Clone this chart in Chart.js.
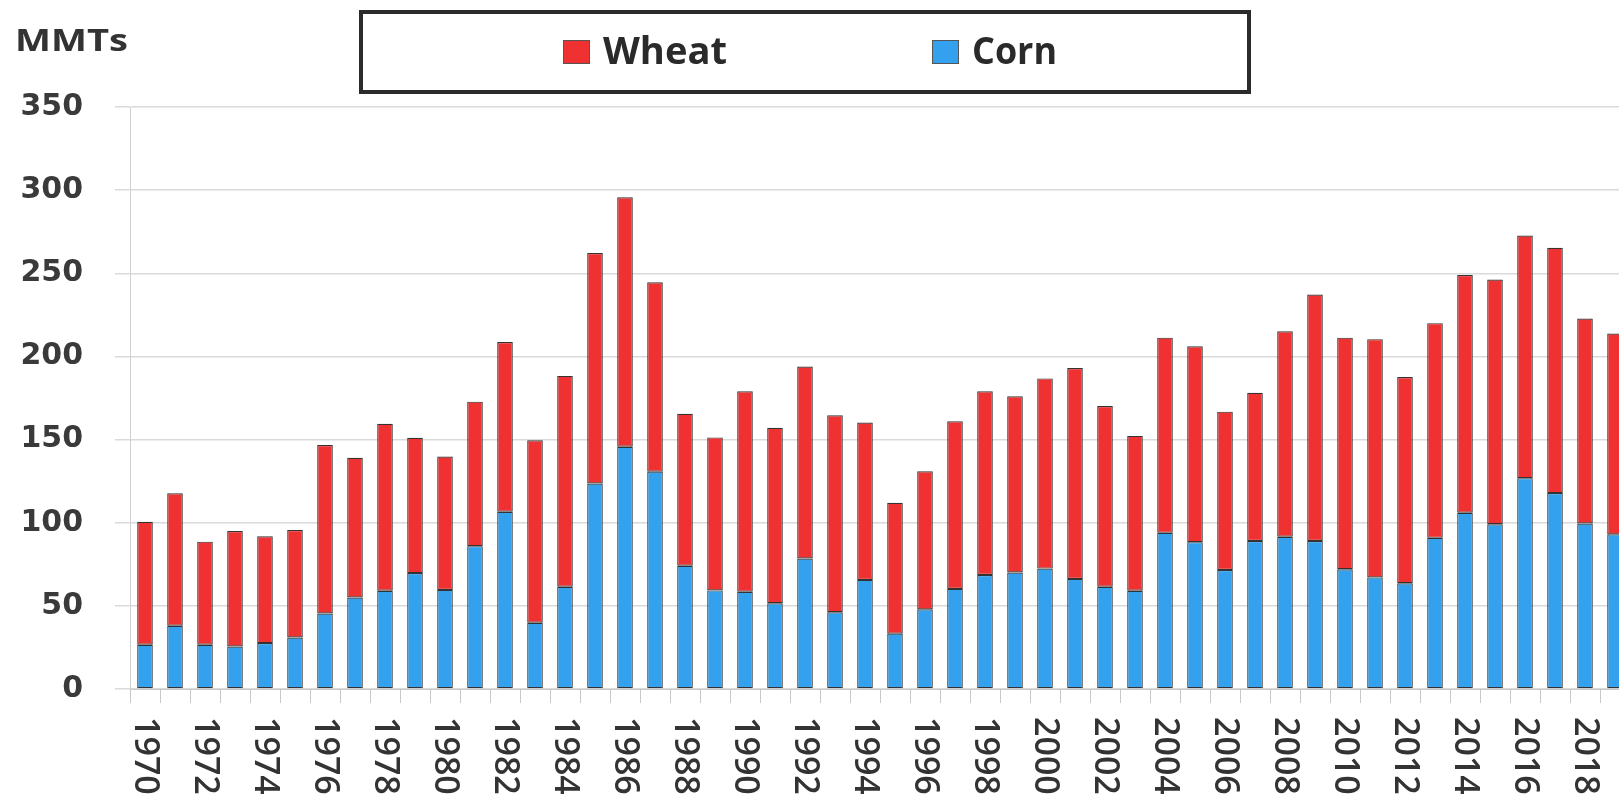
<!DOCTYPE html>
<html>
<head>
<meta charset="utf-8">
<script src="https://cdn.jsdelivr.net/npm/chart.js@4.4.1/dist/chart.umd.min.js"></script>
<style>
html,body{margin:0;padding:0;background:#fff;overflow:hidden;width:1619px;height:802px;}
#wrap{position:absolute;left:0;top:0;width:1640px;height:802px;}
</style>
</head>
<body>
<div id="wrap"><canvas id="c"></canvas></div>
<script>
const years = ['1970','1971','1972','1973','1974','1975','1976','1977','1978','1979',
  '1980','1981','1982','1983','1984','1985','1986','1987','1988','1989',
  '1990','1991','1992','1993','1994','1995','1996','1997','1998','1999',
  '2000','2001','2002','2003','2004','2005','2006','2007','2008','2009',
  '2010','2011','2012','2013','2014','2015','2016','2017','2018','2019'];

const cornValues = [26.6, 38, 26.6, 25.6, 27.6, 31, 45.4, 55, 59.1, 69.7,
  59.6, 85.9, 106.6, 39.8, 61.5, 123.6, 145.7, 130.7, 74.1, 59.3,
  58.5, 51.6, 78.5, 46.2, 65.6, 33.3, 47.9, 60.2, 68.6, 70.1,
  72.4, 66.2, 61.5, 59.1, 93.9, 88.3, 71.6, 89, 91.6, 89,
  72, 67.1, 63.6, 90.9, 106, 99.1, 126.8, 117.8, 99.5, 93];

const wheatValues = [74, 79.7, 62, 69.4, 64.2, 64.6, 101.3, 84, 100.4, 81.4,
  80.2, 86.9, 102.1, 109.8, 126.8, 138.6, 150, 113.9, 91.4, 92,
  120.5, 105.5, 115.4, 118.4, 94.7, 78.7, 83, 100.8, 110.4, 105.9,
  114.4, 126.8, 108.7, 93.1, 117.4, 117.8, 95.2, 89.2, 123.5, 148.2,
  139.3, 143.3, 124, 129.1, 142.9, 147.2, 145.9, 147.6, 123.3, 120.8];

const yTicks = [0, 50, 100, 150, 200, 250, 300, 350];
const unitLabel = 'MMTs';
const legendOrder = ['Wheat', 'Corn'];

const RED = '#EF3131';
const BLUE = '#33A1EE';
const TEXT = '#333333';

function drawStretched(ctx, text, x, y, font, targetWidth) {
  ctx.save();
  ctx.font = font;
  const w = ctx.measureText(text).width;
  const s = targetWidth ? targetWidth / w : 1;
  ctx.translate(x, y);
  ctx.scale(s, 1);
  ctx.fillText(text, 0, 0);
  ctx.restore();
}

const decor = {
  id: 'decor',
  afterDraw(chart) {
    const ctx = chart.ctx;
    ctx.save();
    ctx.fillStyle = TEXT;
    ctx.textBaseline = 'alphabetic';
    ctx.textAlign = 'left';
    // unit label
    drawStretched(ctx, unitLabel, 15, 51, '700 31px "Open Sans"', 113);

    // legend box
    ctx.strokeStyle = '#2b2b2b';
    ctx.lineWidth = 4;
    ctx.strokeRect(361, 12, 888, 80);

    const items = {
      'Wheat': {sx: 563, tx: 603, tw: 124},
      'Corn': {sx: 932, tx: 972, tw: 85}
    };
    legendOrder.forEach(name => {
      const ds = chart.data.datasets.find(d => d.label === name);
      const it = items[name];
      ctx.fillStyle = ds.backgroundColor;
      ctx.fillRect(it.sx, 40, 27, 24);
      ctx.strokeStyle = '#555';
      ctx.lineWidth = 1;
      ctx.strokeRect(it.sx + 0.5, 40.5, 26, 23);
      ctx.fillStyle = '#2a2a2a';
      drawStretched(ctx, name, it.tx, 64, '700 37px "Open Sans"', it.tw);
    });

    // x labels, rotated clockwise
    const xs = chart.scales.x;
    ctx.fillStyle = TEXT;
    ctx.font = '600 34px "Open Sans"';
    ctx.textAlign = 'left';
    ctx.textBaseline = 'middle';
    chart.data.labels.forEach((lab, i) => {
      if (i % 2 !== 0) return;
      const x = xs.getPixelForValue(i);
      ctx.save();
      ctx.translate(x, chart.chartArea.bottom + 28);
      ctx.rotate(Math.PI / 2);
      ctx.fillText(lab, 0, 0);
      ctx.restore();
    });
    ctx.restore();
  }
};

new Chart(document.getElementById('c'), {
  type: 'bar',
  data: {
    labels: years,
    datasets: [
      {label: 'Corn', data: cornValues, backgroundColor: BLUE, borderColor: '#333333', borderWidth: 1.2,
       borderSkipped: false, barPercentage: 0.52, categoryPercentage: 1.0},
      {label: 'Wheat', data: wheatValues, backgroundColor: RED, borderColor: '#333333', borderWidth: 1.2,
       borderSkipped: false, barPercentage: 0.52, categoryPercentage: 1.0}
    ]
  },
  options: {
    responsive: true,
    maintainAspectRatio: false,
    animation: false,
    layout: {padding: {top: 107, bottom: 99, left: 0, right: 10}},
    plugins: {legend: {display: false}, tooltip: {enabled: false}},
    scales: {
      x: {
        stacked: true,
        grid: {display: true, drawOnChartArea: false, drawTicks: true, tickLength: 14, color: '#c8c8c8', offset: true},
        border: {display: true, color: '#c8c8c8'},
        ticks: {display: false, autoSkip: false}
      },
      y: {
        stacked: true,
        min: 0,
        max: 350,
        afterFit(scale) { scale.width = 130; },
        afterBuildTicks(scale) { scale.ticks = yTicks.map(v => ({value: v})); },
        grid: {color: '#dadada', tickLength: 15, lineWidth: 1.5},
        border: {display: true, color: '#d0d0d0'},
        ticks: {font: {family: 'DejaVu Sans', weight: 'bold', size: 30}, color: '#3a3a3a', padding: 32}
      }
    }
  },
  plugins: [decor]
});
</script>
</body>
</html>
